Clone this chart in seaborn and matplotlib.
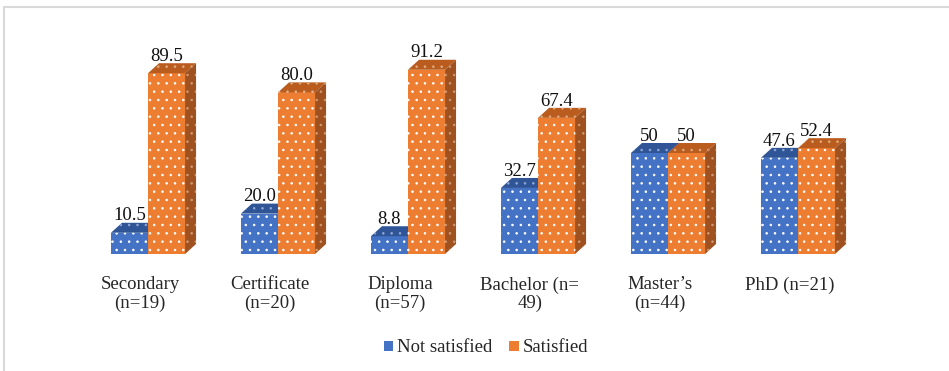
import numpy as np
import pandas as pd
import seaborn as sns
import matplotlib.pyplot as plt
from matplotlib.patches import Polygon, Patch
from matplotlib.lines import Line2D
import matplotlib.transforms as mtransforms

# Education levels and satisfaction shares (%)
levels = ["Secondary\n(n=19)", "Certificate\n(n=20)", "Diploma\n(n=57)",
          "Bachelor (n=\n49)", "Master\u2019s\n(n=44)", "PhD (n=21)"]
not_satisfied_txt = ["10.5", "20.0", "8.8", "32.7", "50", "47.6"]
satisfied_txt = ["89.5", "80.0", "91.2", "67.4", "50", "52.4"]
series = ["Not satisfied", "Satisfied"]

not_satisfied = [float(s) for s in not_satisfied_txt]
satisfied = [float(s) for s in satisfied_txt]

df = pd.DataFrame({
    "level": levels * 2,
    "status": [series[0]] * len(levels) + [series[1]] * len(levels),
    "pct": not_satisfied + satisfied,
})

sns.set_theme(style="white")
plt.rcParams["font.family"] = ["Liberation Serif", "DejaVu Serif"]
plt.rcParams["hatch.linewidth"] = 0.6

FONT = "Liberation Serif"
FS = 13.5
front = {"Not satisfied": "#4472C4", "Satisfied": "#ED7D31"}
top = {"Not satisfied": "#2F5597", "Satisfied": "#B95C1E"}
side = {"Not satisfied": "#2A4C88", "Satisfied": "#9F5120"}

fig = plt.figure(figsize=(9.49, 3.71), dpi=100)
W, H = 949, 371
ax = fig.add_axes([83 / W, 117 / H, 780 / W, 202 / H])

sns.barplot(data=df, x="level", y="pct", hue="status", order=levels,
            hue_order=series, palette=[front[s] for s in series],
            width=0.57, saturation=1, legend=False, ax=ax)

ax.set_xlim(-0.5, 5.5)
ax.set_ylim(0, 100)
sns.despine(ax=ax, left=True, bottom=True)
ax.set_yticks([])
ax.set_xlabel("")
ax.set_ylabel("")
ax.tick_params(axis="x", length=0, pad=16, labelsize=FS, labelcolor="#262626")
ax.set_xticks(range(len(levels)))
ax.set_xticklabels(levels, linespacing=1.1, family=FONT)
shift = mtransforms.ScaledTranslation(-8 / 100, 0, fig.dpi_scale_trans)
for lab in ax.get_xticklabels():
    lab.set_transform(lab.get_transform() + shift)

# depth of the pseudo-3D extrusion, in data units
px_x = 780 / 6.0
px_y = 202 / 100.0
dx = 11 / px_x
dy = 10 / px_y

texts = [not_satisfied_txt, satisfied_txt]
for k, (name, cont) in enumerate(zip(series, ax.containers)):
    z = 2 + k
    for bar, txt in zip(cont.patches, texts[k]):
        bar.set_zorder(z)
        bar.set_hatch("..")
        bar.set_edgecolor("white")
        bar.set_linewidth(0)
        x0 = bar.get_x()
        x1 = x0 + bar.get_width()
        h = bar.get_height()
        top_face = Polygon([(x0, h), (x1, h), (x1 + dx, h + dy), (x0 + dx, h + dy)],
                           closed=True, facecolor=top[name], edgecolor="#E0AA80" if k else "#8FA6D6",
                           linewidth=0, hatch="..", zorder=z + 0.1, clip_on=False)
        side_face = Polygon([(x1, 0), (x1 + dx, dy), (x1 + dx, h + dy), (x1, h)],
                            closed=True, facecolor=side[name], edgecolor="#D09A72" if k else "#8FA6D6",
                            linewidth=0, hatch="..", zorder=z + 0.1, clip_on=False)
        ax.add_patch(top_face)
        ax.add_patch(side_face)
        ax.annotate(txt, xy=(x0 + bar.get_width() / 2, h), xytext=(0, 6),
                    textcoords="offset points", ha="center", va="bottom",
                    fontsize=FS, family=FONT, color="#111111", zorder=10,
                    annotation_clip=False)

# legend
handles = [Patch(facecolor=front[s], edgecolor="none") for s in series]
fig.legend(handles, series, loc="center", bbox_to_anchor=(486 / W, 1 - 348 / H),
           ncol=2, frameon=False, prop={"family": FONT, "size": FS},
           handlelength=0.5, handleheight=0.5, handletextpad=0.2,
           columnspacing=0.9, labelcolor="#262626")

# chart frame
fig.add_artist(Line2D([3.5 / W, 1], [1 - 6.5 / H, 1 - 6.5 / H], transform=fig.transFigure,
                      color="#D9D9D9", linewidth=1.5))
fig.add_artist(Line2D([3.5 / W, 3.5 / W], [0, 1 - 6.5 / H], transform=fig.transFigure,
                      color="#D9D9D9", linewidth=1.5))

fig.savefig("out.png", dpi=100)
